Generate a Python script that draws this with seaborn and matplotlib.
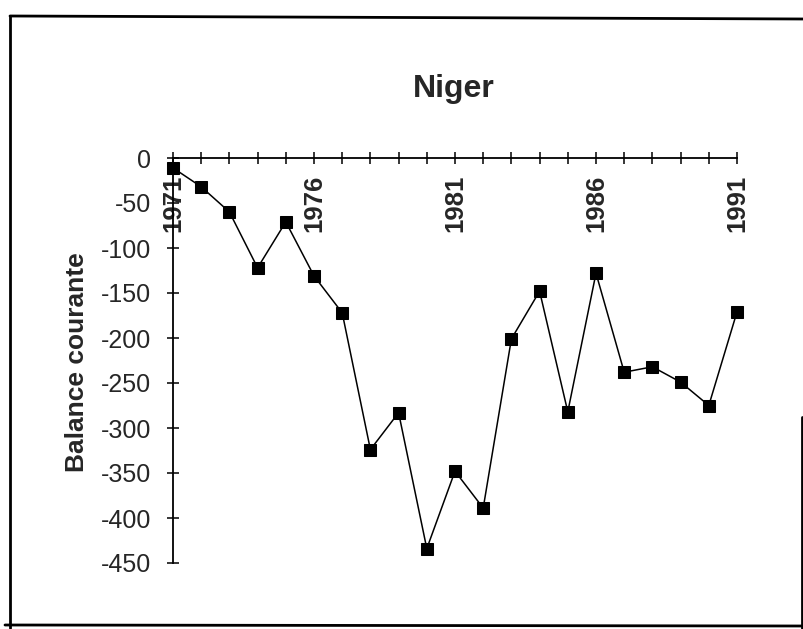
import matplotlib
matplotlib.use("Agg")
import matplotlib.pyplot as plt
from matplotlib.lines import Line2D
import seaborn as sns
import pandas as pd

# Current account balance of Niger, 1971-1991
years = [1971, 1972, 1973, 1974, 1975, 1976, 1977, 1978, 1979, 1980, 1981,
         1982, 1983, 1984, 1985, 1986, 1987, 1988, 1989, 1990, 1991]
balance = [-11, -32, -60, -122, -71, -131, -172, -324, -283, -434, -348,
           -389, -201, -148, -282, -128, -238, -232, -249, -275, -171]
year_ticks = [1971, 1976, 1981, 1986, 1991]
value_ticks = [0, -50, -100, -150, -200, -250, -300, -350, -400, -450]

sns.set_style("white")
plt.rcParams["font.family"] = ["Liberation Sans", "DejaVu Sans"]

df = pd.DataFrame({"annee": years, "balance": balance})

W, H = 804, 629
fig = plt.figure(figsize=(W / 100, H / 100), dpi=100)
ax = fig.add_axes([173 / W, 1 - 563 / H, (737 - 173) / W, (563 - 158) / H])

sns.lineplot(data=df, x="annee", y="balance", ax=ax, color="black",
             linewidth=1.1, marker="s", markersize=8, markeredgecolor="black",
             markerfacecolor="black", clip_on=False)

ax.set_xlim(1971, 1991)
ax.set_ylim(-450, 0)

# x axis sits on the zero line, at the top of the plot
ax.spines["bottom"].set_position(("data", 0))
ax.spines["top"].set_visible(False)
ax.spines["right"].set_visible(False)
for s in ("left", "bottom"):
    ax.spines[s].set_color("black")
    ax.spines[s].set_linewidth(1.3)

ax.set_xticks(years, minor=True)
ax.set_xticks(year_ticks)
ax.set_xticklabels([str(y) for y in year_ticks], rotation=90,
                   fontsize=18.5, fontweight="bold")
ax.set_yticks(value_ticks)
ax.set_yticklabels([str(v) for v in value_ticks], fontsize=18)

ax.tick_params(axis="x", which="both", direction="inout", length=8,
               width=1.1, color="black", pad=8, bottom=True)
ax.tick_params(axis="y", which="major", direction="inout", length=9,
               width=1.1, color="black", pad=11, left=True)

ax.set_xlabel("")
ax.set_ylabel("Balance courante", fontsize=19, fontweight="bold")
ax.yaxis.set_label_coords(-(173 - 89) / (737 - 173), (563 - 362) / (563 - 158))

fig.text(454 / W, 1 - 97 / H, "Niger", fontsize=23, fontweight="bold",
         ha="center", va="baseline")

# frame around the chart
def fline(x0, y0, x1, y1, lw=2.0):
    fig.add_artist(Line2D([x0 / W, x1 / W], [1 - y0 / H, 1 - y1 / H],
                          color="black", linewidth=lw))

fline(10, 16, 804, 19)
fline(10, 16, 10, 628)
fline(5, 625, 802, 626)
fline(802, 417, 802, 629)

fig.savefig("out.png", dpi=100, facecolor="white")
